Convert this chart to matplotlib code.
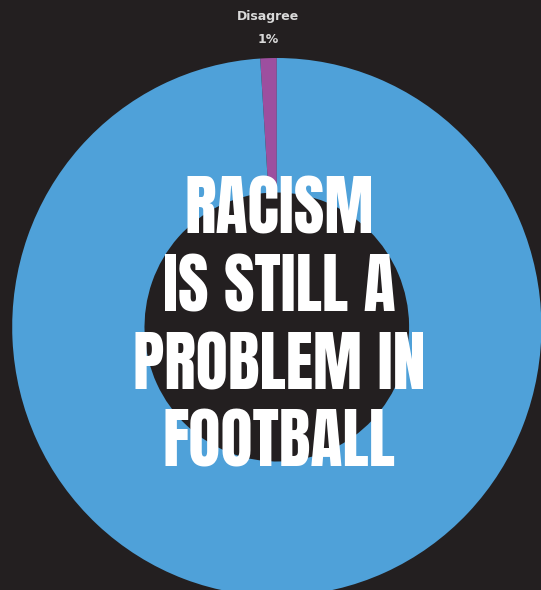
import numpy as np
import matplotlib
matplotlib.use("Agg")
import matplotlib.pyplot as plt

# Survey answers
responses = ["Disagree", "Agree"]
shares = [1, 99]
slice_colors = ["#9d4f9f", "#4fa1d9"]
headline = ["RACISM", "IS STILL A", "PROBLEM IN", "FOOTBALL"]

W, H = 541, 590
BG = "#231f20"

fig = plt.figure(figsize=(W / 100, H / 100), dpi=100, facecolor=BG)
ax = fig.add_axes([0, 0, 1, 1])
ax.set_facecolor(BG)

# data units: 1 unit = 1 px horizontally; the ring is a touch taller than wide
yscale = 264.6 / 269.0
R = 264.6
cx, cy = 276.8, (H - 327.0) * yscale

wedges, _ = ax.pie(shares, colors=slice_colors, startangle=90, counterclock=True,
                   radius=R, center=(cx, cy),
                   wedgeprops=dict(width=R * 0.50, linewidth=0, antialiased=True))
ax.set_xlim(0, W)
ax.set_ylim(0, H * yscale)
ax.set_aspect("auto")
ax.axis("off")

# slice labels placed just outside the ring at each slice's mid-angle
for w, name, val in zip(wedges, responses, shares):
    mid = np.deg2rad((w.theta1 + w.theta2) / 2)
    lx = cx + R * np.cos(mid)
    ly_name = cy + R * 1.155 * np.sin(mid)
    ly_val = cy + R * 1.07 * np.sin(mid)
    if not (0 <= ly_val <= H * yscale):
        continue
    ax.text(lx, ly_name, name, ha="center", va="center", color="#d9d9d9",
            fontsize=9, fontweight="bold", family="DejaVu Sans")
    ax.text(lx, ly_val, f"{val}%", ha="center", va="center", color="#d9d9d9",
            fontsize=9, fontweight="bold", family="DejaVu Sans")

# headline over the ring
baselines = [233.5, 311.0, 389.0, 466.5]
for line, base in zip(headline, baselines):
    fig.text(279 / W, 1 - base / H, line, ha="center", va="baseline",
             color="white", fontsize=47.5, family=["Anton", "DejaVu Sans"])

fig.savefig("out.png", dpi=100, facecolor=BG)
